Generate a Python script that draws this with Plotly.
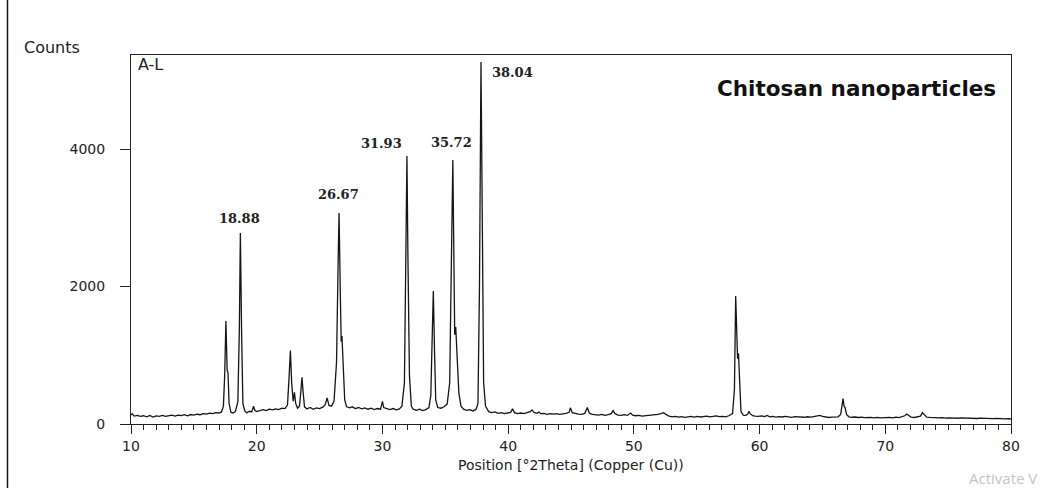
import plotly.graph_objects as go

# 2-theta positions (degrees) and counts
two_theta = [
    10.0, 10.1, 10.25, 10.5, 10.75, 11.0, 11.25, 11.5, 11.75, 12.0, 12.25, 12.5, 12.75, 13.0, 13.25,
    13.5, 13.75, 14.0, 14.25, 14.5, 14.75, 15.0, 15.25, 15.5, 15.75, 16.0, 16.25, 16.5, 16.75, 17.0,
    17.2, 17.35, 17.45, 17.55, 17.65, 17.72, 17.8, 17.95, 18.1, 18.3,
    18.5, 18.62, 18.7, 18.8, 18.9, 19.05, 19.2, 19.4, 19.6, 19.75, 19.85, 20.0, 20.25, 20.5, 20.75,
    21.0, 21.25, 21.5, 21.75, 22.0, 22.25, 22.45,
    22.58, 22.68, 22.78, 22.9, 23.0, 23.1, 23.25, 23.4, 23.5, 23.6, 23.7, 23.8, 24.0, 24.25, 24.5,
    24.75, 25.0, 25.25, 25.45, 25.6, 25.75, 25.95, 26.15,
    26.35, 26.48, 26.55, 26.65, 26.72, 26.78, 26.88, 27.0, 27.15, 27.4, 27.6, 27.85, 28.1, 28.35,
    28.6, 28.85, 29.1, 29.35, 29.6, 29.85, 30.0, 30.1, 30.35, 30.6, 30.85, 31.1, 31.35, 31.55, 31.75,
    31.87, 31.95, 32.03, 32.15, 32.3, 32.45, 32.7, 32.95, 33.2, 33.45, 33.7, 33.85,
    33.95, 34.05, 34.14, 34.24, 34.4, 34.65, 34.9, 35.15, 35.35,
    35.5, 35.6, 35.68, 35.75, 35.83, 35.93, 36.08, 36.25, 36.45, 36.7, 36.95, 37.2, 37.45, 37.6,
    37.72, 37.84, 37.95, 38.05, 38.2, 38.45, 38.7, 38.95, 39.2, 39.45, 39.7, 39.95, 40.2, 40.35,
    40.5, 40.75, 41.0, 41.25, 41.5, 41.75, 41.9, 42.05, 42.3, 42.45, 42.6, 42.85, 43.1, 43.35, 43.6,
    43.85, 44.1, 44.35, 44.6, 44.85, 44.95, 45.1, 45.35, 45.6, 45.85, 46.1, 46.3, 46.45, 46.7, 46.95,
    47.2, 47.45, 47.7, 47.95, 48.2, 48.35, 48.5, 48.75, 49.0, 49.25, 49.5, 49.75, 49.9, 50.15, 50.4,
    50.65, 50.9, 51.15, 51.4, 51.65, 51.9, 52.15, 52.35, 52.55, 52.8, 53.05, 53.3, 53.55, 53.8,
    54.05, 54.3, 54.55, 54.8, 55.05, 55.3, 55.55, 55.8, 56.05, 56.3, 56.55, 56.8, 57.05, 57.3, 57.55,
    57.85, 58.0,
    58.1, 58.2, 58.25, 58.32, 58.4, 58.52, 58.7, 58.9, 59.05, 59.15, 59.25, 59.45, 59.65, 59.9, 60.15,
    60.4, 60.6, 60.8, 61.05, 61.3, 61.55, 61.8, 62.05, 62.3, 62.55, 62.8, 63.05, 63.3, 63.55, 63.8,
    64.05, 64.3, 64.55, 64.8, 65.0, 65.25, 65.5, 65.75, 66.0, 66.25, 66.45, 66.58, 66.64, 66.72,
    66.8, 66.92, 67.1, 67.35, 67.6, 67.85, 68.1, 68.35, 68.6, 68.85, 69.1, 69.35, 69.6, 69.85, 70.1,
    70.35, 70.6, 70.85, 71.1, 71.35, 71.55, 71.7, 71.85, 72.05, 72.3, 72.55, 72.8, 72.95, 73.1, 73.3,
    73.55, 73.8, 74.05, 74.3, 74.55, 74.8, 75.05, 75.3, 75.55, 75.8, 76.05, 76.3, 76.55, 76.8, 77.05,
    77.3, 77.55, 77.8, 78.05, 78.3, 78.55, 78.8, 79.05, 79.3, 79.55, 79.8, 80.0,
]
counts = [
    130, 150, 115, 125, 110, 120, 105, 125, 100, 118, 112, 125, 110, 120, 128,
    115, 130, 122, 135, 120, 138, 130, 142, 135, 150, 145, 158, 150, 165, 160,
    175, 260, 700, 1500, 780, 740, 300, 170, 160, 180,
    320, 1400, 2780, 1300, 300, 190, 160, 185, 175, 260, 200, 180, 190, 210, 195,
    215, 205, 220, 210, 230, 225, 280,
    700, 1070, 600, 330, 460, 300, 230, 260, 450, 680, 450, 250, 220, 240, 215,
    235, 225, 245, 280, 380, 270, 260, 330,
    900, 2400, 3070, 1900, 1200, 1280, 800, 350, 250, 235, 250, 225, 240, 220,
    235, 215, 230, 210, 225, 215, 330, 240, 225, 210, 225, 205, 220, 260, 600,
    2200, 3900, 2400, 700, 260, 215, 200, 215, 195, 210, 240, 420,
    1200, 1935, 1100, 350, 240, 230, 250, 290, 600,
    2300, 3840, 2500, 1300, 1410, 1000, 450, 260, 215, 200, 210, 190, 215, 300,
    2000, 5267, 2200, 600, 260, 180, 165, 175, 155, 165, 150, 160, 170, 220,
    165, 150, 160, 150, 165, 180, 205, 170, 155, 175, 150, 155, 140, 150, 145,
    150, 140, 145, 155, 170, 235, 165, 150, 145, 140, 155, 240, 160, 140, 135,
    130, 140, 125, 135, 150, 195, 150, 130, 125, 135, 125, 160, 130, 120, 125,
    115, 120, 115, 125, 130, 140, 150, 165, 140, 115, 105, 110, 100, 108,
    98, 105, 112, 100, 110, 102, 108, 115, 105, 110, 118, 108, 112, 105, 120,
    150, 500,
    1862, 1300, 950, 1030, 600, 180, 130, 125, 140, 185, 150, 120, 115, 110, 118,
    108, 125, 105, 110, 100, 108, 102, 110, 105, 98, 106, 100, 104, 98, 105,
    100, 108, 112, 125, 110, 100, 95, 100, 98, 105, 140, 300, 370, 260,
    240, 140, 105, 98, 102, 95, 100, 92, 98, 95, 90, 96, 90, 94, 88,
    95, 90, 100, 92, 105, 120, 145, 125, 100, 95, 100, 115, 165, 130, 100,
    95, 90, 92, 88, 94, 86, 90, 85, 88, 84, 90, 86, 82, 88, 84,
    80, 86, 82, 80, 84, 78, 82, 76, 80, 75, 78, 74,
]

x_ticks = [10, 20, 30, 40, 50, 60, 70, 80]
y_ticks = [0, 2000, 4000]
peak_labels = ["18.88", "26.67", "31.93", "35.72", "38.04"]
label_x = [18.67, 26.47, 29.89, 35.46, 40.31]
label_y = [2994, 3344, 4087, 4102, 5121]

W, H = 1049, 488
L, R, T, B = 131, 1011, 55, 424


def px(xpix):
    return (xpix - L) / (R - L)


def py(ypix):
    return (B - ypix) / (B - T)


fig = go.Figure()
fig.add_trace(go.Scatter(
    x=two_theta, y=counts, mode="lines",
    line=dict(color="#151515", width=1.3),
    hoverinfo="skip", showlegend=False,
))

axis_font = dict(family="DejaVu Sans", size=14, color="#222")

fig.update_xaxes(
    range=[10, 80], tickvals=x_ticks, ticktext=[str(v) for v in x_ticks],
    showgrid=False, zeroline=False, showline=True, linecolor="#222", linewidth=1,
    mirror=True, ticks="outside", ticklen=9, tickcolor="#222", tickwidth=1,
    tickfont=axis_font,
    minor=dict(dtick=1, ticks="outside", ticklen=5, tickcolor="#222", tickwidth=1, showgrid=False),
)
fig.update_yaxes(
    range=[0, 5370], tickvals=y_ticks, ticktext=[str(v) for v in y_ticks],
    showgrid=False, zeroline=False, showline=True, linecolor="#222", linewidth=1,
    mirror=True, ticks="outside", ticklen=10, tickcolor="#222", tickwidth=1,
    tickfont=axis_font, ticklabelstandoff=12,
)

annotations = []
for txt, xv, yv in zip(peak_labels, label_x, label_y):
    annotations.append(dict(
        x=xv, y=yv, xref="x", yref="y", text=txt, showarrow=False,
        xanchor="center", yanchor="middle",
        font=dict(family="DejaVu Serif", size=13, color="#222", weight="bold"),
    ))

annotations += [
    dict(x=px(22), y=py(47), xref="paper", yref="paper", text="Counts", showarrow=False,
         xanchor="left", yanchor="middle", font=dict(family="DejaVu Sans", size=16, color="#222")),
    dict(x=px(136), y=py(64), xref="paper", yref="paper", text="A-L", showarrow=False,
         xanchor="left", yanchor="middle", font=dict(family="DejaVu Sans", size=16, color="#222")),
    dict(x=px(998), y=py(88), xref="paper", yref="paper", text="<b>Chitosan nanoparticles</b>",
         showarrow=False, xanchor="right", yanchor="middle",
         font=dict(family="DejaVu Sans", size=21.5, color="#111")),
    dict(x=0.5, y=py(465), xref="paper", yref="paper", text="Position [°2Theta] (Copper (Cu))",
         showarrow=False, xanchor="center", yanchor="middle",
         font=dict(family="DejaVu Sans", size=14, color="#222")),
    dict(x=px(967), y=py(478), xref="paper", yref="paper", text="Activate V",
         showarrow=False, xanchor="left", yanchor="middle",
         font=dict(family="Open Sans", size=15, color="#c4c4c4")),
]

fig.update_layout(
    width=W, height=H,
    margin=dict(l=L, r=W - R, t=T, b=H - B),
    paper_bgcolor="white", plot_bgcolor="white",
    annotations=annotations,
    shapes=[dict(type="line", xref="paper", yref="paper",
                 x0=px(7.5), x1=px(7.5), y0=py(0), y1=py(H),
                 line=dict(color="#111", width=1.5))],
)

fig.write_html("out.html", config={"displayModeBar": False})
